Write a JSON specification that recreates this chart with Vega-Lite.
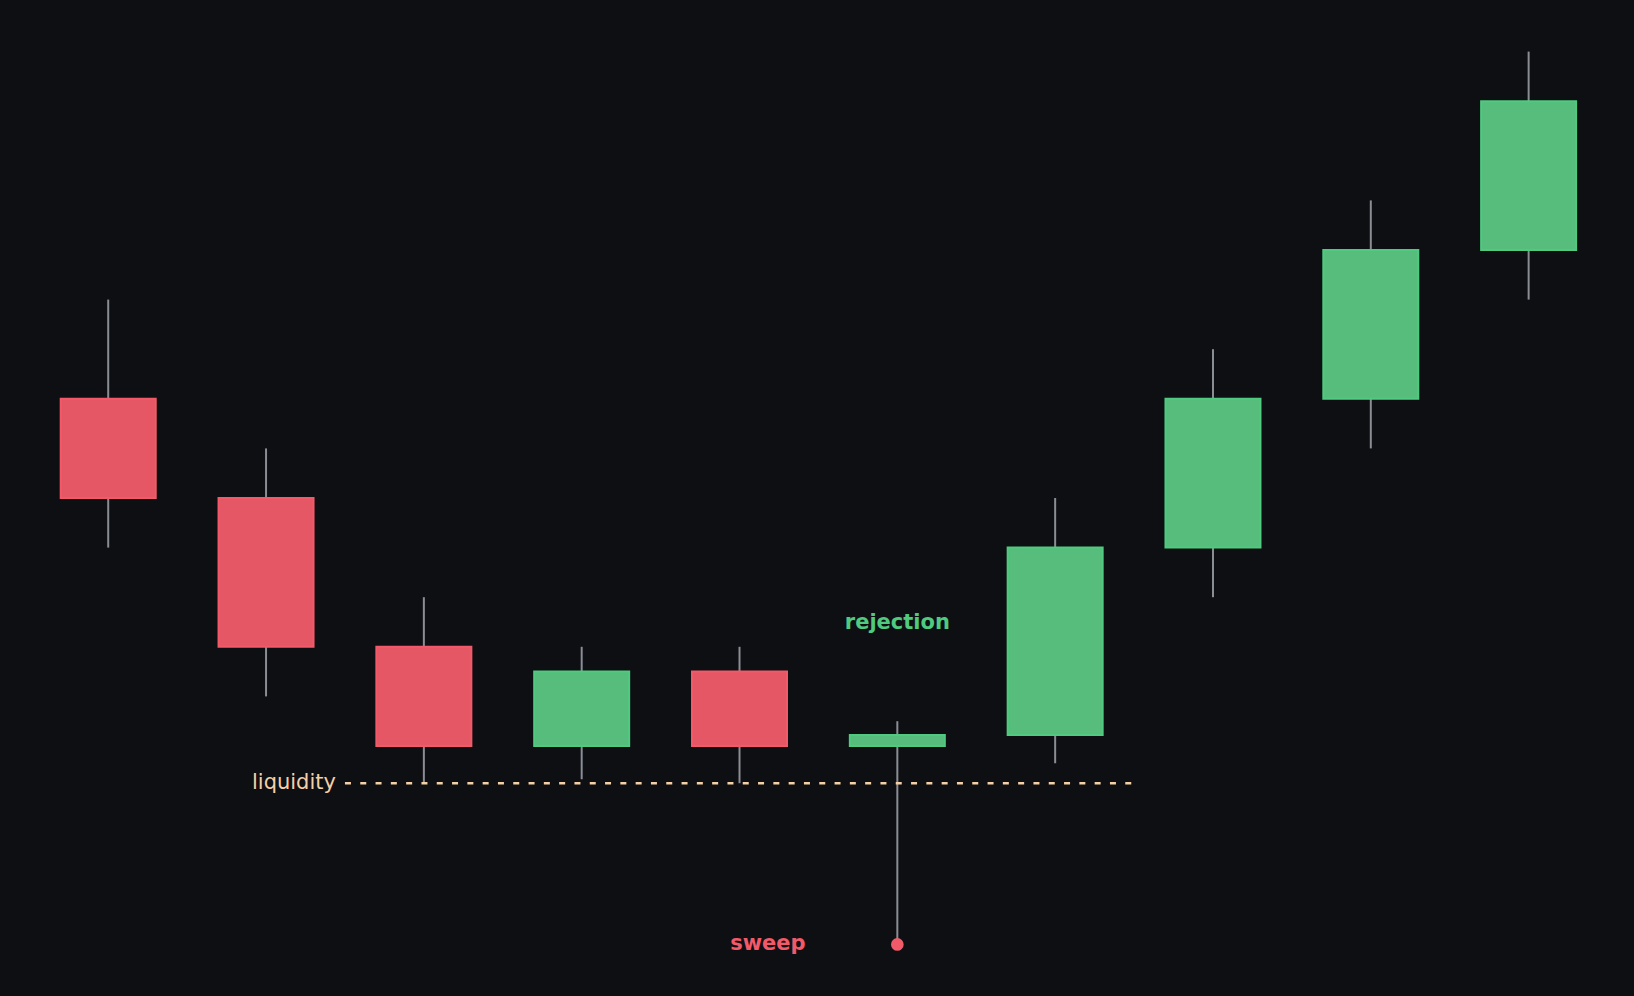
{
  "$schema": "https://vega.github.io/schema/vega-lite/v6.json",
  "width": 1634,
  "height": 996,
  "autosize": {"type": "fit", "contains": "padding"},
  "padding": 0,
  "background": "#0e0f13",
  "config": {"view": {"stroke": null}},
  "datasets": {
    "candles": [
      {"i": 0, "open": 107, "close": 105, "high": 109, "low": 104},
      {"i": 1, "open": 105, "close": 102, "high": 106, "low": 101},
      {"i": 2, "open": 102, "close": 100, "high": 103, "low": 99.25},
      {"i": 3, "open": 100, "close": 101.5, "high": 102, "low": 99.33},
      {"i": 4, "open": 101.5, "close": 100, "high": 102, "low": 99.25},
      {"i": 5, "open": 100, "close": 100.22, "high": 100.5, "low": 96},
      {"i": 6, "open": 100.22, "close": 104, "high": 105, "low": 99.65},
      {"i": 7, "open": 104, "close": 107, "high": 108, "low": 103},
      {"i": 8, "open": 107, "close": 110, "high": 111, "low": 106},
      {"i": 9, "open": 110, "close": 113, "high": 114, "low": 109}
    ]
  },
  "encoding": {
    "x": {"type": "quantitative", "scale": {"domain": [-0.654, 9.636], "nice": false, "zero": false}, "axis": null}
  },
  "layer": [
    {
      "data": {"name": "candles"},
      "mark": {"type": "rule", "color": "#8a8d94", "strokeWidth": 2},
      "encoding": {
        "x": {"field": "i", "type": "quantitative"},
        "y": {"field": "low", "type": "quantitative", "scale": {"domain": [94.96, 115.04], "nice": false, "zero": false}, "axis": null},
        "y2": {"field": "high"}
      }
    },
    {
      "data": {"name": "candles"},
      "transform": [{"calculate": "datum.close >= datum.open ? 'up' : 'down'", "as": "dir"}],
      "mark": {"type": "bar", "size": 95, "strokeWidth": 2},
      "encoding": {
        "x": {"field": "i", "type": "quantitative"},
        "y": {"field": "open", "type": "quantitative"},
        "y2": {"field": "close"},
        "fill": {"field": "dir", "type": "nominal", "scale": {"domain": ["up", "down"], "range": ["#56bd7d", "#e55764"]}, "legend": null},
        "stroke": {"field": "dir", "type": "nominal", "scale": {"domain": ["up", "down"], "range": ["#4fca7f", "#f25a6a"]}, "legend": null}
      }
    },
    {
      "data": {"values": [{"from": 1.5, "to": 6.5, "level": 99.25}]},
      "mark": {"type": "rule", "color": "#f5cfa6", "strokeWidth": 2.6, "strokeDash": [6, 9.3]},
      "encoding": {
        "x": {"field": "from", "type": "quantitative"},
        "x2": {"field": "to"},
        "y": {"field": "level", "type": "quantitative"}
      }
    },
    {
      "data": {"values": [{"pos": 1.5, "level": 99.25, "label": "liquidity"}]},
      "mark": {"type": "text", "align": "right", "baseline": "middle", "dx": -9, "font": "DejaVu Sans", "fontSize": 21, "color": "#f5cfa6"},
      "encoding": {
        "x": {"field": "pos", "type": "quantitative"},
        "y": {"field": "level", "type": "quantitative"},
        "text": {"field": "label"}
      }
    },
    {
      "data": {"values": [
        {"pos": 5, "level": 102.48, "label": "rejection", "kind": "up"},
        {"pos": 4.18, "level": 96, "label": "sweep", "kind": "down"}
      ]},
      "mark": {"type": "text", "align": "center", "baseline": "middle", "font": "DejaVu Sans", "fontSize": 21, "fontWeight": "bold"},
      "encoding": {
        "x": {"field": "pos", "type": "quantitative"},
        "y": {"field": "level", "type": "quantitative"},
        "text": {"field": "label"},
        "color": {"field": "kind", "type": "nominal", "scale": {"domain": ["up", "down"], "range": ["#4fca7f", "#f25a6a"]}, "legend": null}
      }
    },
    {
      "data": {"values": [{"pos": 5, "level": 96}]},
      "mark": {"type": "point", "shape": "circle", "filled": true, "size": 160, "color": "#f25a6a", "opacity": 1},
      "encoding": {
        "x": {"field": "pos", "type": "quantitative"},
        "y": {"field": "level", "type": "quantitative"}
      }
    }
  ]
}
